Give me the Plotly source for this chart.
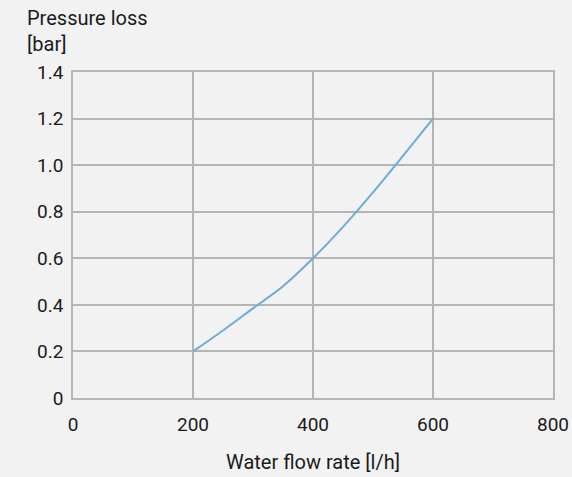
import plotly.graph_objects as go

flow = [200, 250, 300, 350, 400, 450, 500, 550, 600]
loss = [0.2, 0.29, 0.385, 0.48, 0.6, 0.735, 0.883, 1.04, 1.2]

x_ticks = [0, 200, 400, 600, 800]
y_ticks = [0, 0.2, 0.4, 0.6, 0.8, 1.0, 1.2, 1.4]
y_labels = ["0", "0.2", "0.4", "0.6", "0.8", "1.0", "1.2", "1.4"]

W, H = 572, 477
ML, MR, MT, MB = 73, 19, 72, 79
PW, PH = W - ML - MR, H - MT - MB

FONT = "Roboto, sans-serif"
BG = "#f2f2f2"
GRID = "#b5b5b5"
TXT = "#1a1a1a"

fig = go.Figure()
fig.add_trace(go.Scatter(x=flow, y=loss, mode="lines",
                         line=dict(color="#6aaed6", width=2, shape="spline", smoothing=0.8),
                         hoverinfo="skip"))

fig.update_layout(
    width=W, height=H,
    margin=dict(l=ML, r=MR, t=MT, b=MB, pad=0, autoexpand=False),
    paper_bgcolor=BG, plot_bgcolor=BG,
    showlegend=False,
    font=dict(family=FONT, size=19, color=TXT),
    xaxis=dict(range=[0, 800], tickvals=x_ticks, ticktext=[str(v) for v in x_ticks],
               automargin=False,
               showgrid=True, gridcolor=GRID, gridwidth=1.5,
               showline=True, linecolor=GRID, linewidth=1.5, mirror=True,
               zeroline=False, ticks="outside", ticklen=8, tickcolor=BG,
               tickfont=dict(family=FONT, size=19, color=TXT),
               title=dict(text="Water flow rate [l/h]", standoff=20,
                          font=dict(family=FONT, size=20, color=TXT))),
    yaxis=dict(range=[0, 1.4], tickvals=y_ticks, ticktext=y_labels,
               automargin=False,
               showgrid=True, gridcolor=GRID, gridwidth=1.5,
               showline=True, linecolor=GRID, linewidth=1.5, mirror=True,
               zeroline=False, ticks="outside", ticklen=4, tickcolor=BG,
               tickfont=dict(family=FONT, size=19, color=TXT)),
    annotations=[dict(text="Pressure loss<br>[bar]", xref="paper", yref="paper",
                      x=(25 - ML) / PW, y=1 + (MT - 4) / PH,
                      xanchor="left", yanchor="top", align="left", showarrow=False,
                      font=dict(family=FONT, size=20, color=TXT))],
)

fig.write_html("out.html", config={"displayModeBar": False},
               post_script="document.body.style.margin='0';document.body.style.background='#f2f2f2';")
